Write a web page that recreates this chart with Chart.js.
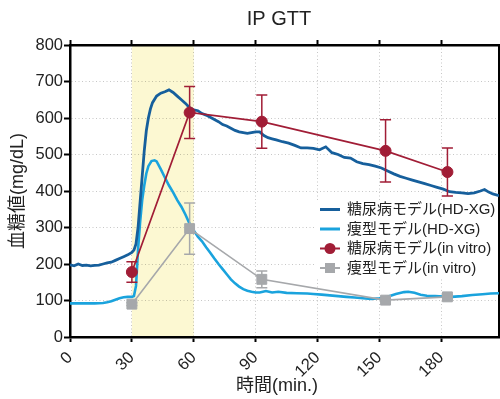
<!DOCTYPE html>
<html><head><meta charset="utf-8">
<script src="https://cdn.jsdelivr.net/npm/chart.js@4/dist/chart.umd.min.js"></script>
<style>html,body{margin:0;padding:0;background:#fff}</style>
</head><body>
<canvas id="c" width="500" height="399"></canvas>
<script>
const FONT = "'Liberation Sans', 'Noto Sans CJK JP', Arial, sans-serif";

const chartTitle = 'IP GTT';
const xAxisTitle = '時間(min.)';
const yAxisTitle = '血糖値(mg/dL)';
const seriesNames = ['糖尿病モデル(HD-XG)', '痩型モデル(HD-XG)', '糖尿病モデル(in vitro)', '痩型モデル(in vitro)'];
const xTickValues = [0, 30, 60, 90, 120, 150, 180];
const yTickValues = [0, 100, 200, 300, 400, 500, 600, 700, 800];
const xMax = 208;
const bandRange = [30, 60];

const hdTimeDiabetic = [0,2,4,6,8,10,12,14,16,18,20,22,24,26,28,30,31,32,33,34,35,36,37,38,39,40,42,44,46,48,50,52,54,56,58,60,62,64,66,68,70,72,74,76,78,80,82,84,86,88,90,92,94,96,98,100,103,106,109,112,115,118,121,124,127,130,133,136,139,142,145,148,151,154,157,160,163,166,169,172,175,178,181,184,187,190,193,196,199,201,203,205,208];
const hdDiabetic = [198,195,200,196,197,195,196,197,200,203,205,210,215,220,225,232,238,255,300,370,440,510,565,600,625,642,660,668,672,677,670,660,650,640,628,622,620,612,608,602,596,590,582,578,572,566,562,560,558,560,562,562,552,546,543,540,535,531,525,518,518,517,513,521,505,500,492,490,480,475,472,468,463,455,447,440,435,430,425,420,415,410,405,398,396,395,393,395,400,404,397,392,387];

const hdTimeLean = [0,4,8,12,16,18,20,22,24,26,28,30,31,32,33,34,35,36,37,38,39.5,41,42,44,46,48,50,52,54,56,58,60,62,64,66,68,70,72,74,76,78,80,82,84,86,88,90,92,95,98,101,105,110,115,118,122,126,130,134,138,142,146,150,154,158,162,164,167,170,173,177,181,185,190,195,200,204,208];
const hdLean = [92,92,92,92,93,95,98,102,106,109,110,110,112,140,240,315,375,415,448,468,482,484,481,460,437,415,396,375,357,335,310,292,275,262,246,231,215,200,186,172,158,147,138,131,127,124,122,122,126,122,124,121,120,119,118,116,114,112,110,108,106,104,106,110,118,123,124,121,116,113,112,111,110,112,115,117,119,120];

const vitroTime = [30, 58, 93, 153, 183];
const vitroDiabetic = [178, 615, 590, 510, 452];
const vitroDiabeticErr = [28, 71, 73, 85, 66];
const vitroLean = [90, 297, 158, 101, 110];
const vitroLeanErr = [4, 70, 23, 4, 5];

const C_DB = '#165f9c', C_LB = '#1aa3dd', C_RED = '#a11d36', C_GRAY = '#a6a8ab';
const TEXT = '#222';

const pts = (xs, ys) => xs.map((t, i) => ({x: t, y: ys[i]}));
const noPad = s => { s.paddingLeft = 0; s.paddingRight = 0; s.paddingTop = 0; s.paddingBottom = 0; };

Chart.defaults.font.family = FONT;
Chart.defaults.color = TEXT;

const bandPlugin = {
  id: 'band',
  beforeDraw(chart) {
    const {ctx, chartArea: a, scales: {x}} = chart;
    const x0 = x.getPixelForValue(bandRange[0]), x1 = x.getPixelForValue(bandRange[1]);
    ctx.save();
    ctx.fillStyle = '#fcf8d2';
    ctx.fillRect(x0, a.top, x1 - x0, a.bottom - a.top);
    ctx.restore();
  }
};

const errorBarPlugin = {
  id: 'errbars',
  afterDatasetsDraw(chart) {
    const {ctx, scales: {x, y}} = chart;
    chart.data.datasets.forEach(ds => {
      if (!ds.errors) return;
      ctx.save();
      ctx.strokeStyle = ds.borderColor;
      ctx.lineWidth = 1.5;
      ds.data.forEach((p, i) => {
        const e = ds.errors[i];
        const px = x.getPixelForValue(p.x);
        const yt = y.getPixelForValue(p.y + e), yb = y.getPixelForValue(p.y - e);
        ctx.beginPath();
        ctx.moveTo(px, yt); ctx.lineTo(px, yb);
        ctx.moveTo(px - 5.5, yt); ctx.lineTo(px + 5.5, yt);
        ctx.moveTo(px - 5.5, yb); ctx.lineTo(px + 5.5, yb);
        ctx.stroke();
      });
      ctx.restore();
    });
  }
};

const legendPlugin = {
  id: 'boxLegend',
  afterDraw(chart) {
    const {ctx, chartArea: a} = chart;
    const left = a.right - 183, top = a.top + 156;
    ctx.save();
    ctx.fillStyle = '#fff';
    ctx.fillRect(left, top, 181, 77);
    ctx.font = '15px ' + FONT;
    ctx.textBaseline = 'middle';
    ctx.textAlign = 'left';
    chart.data.datasets.forEach((ds, i) => {
      const cy = top + 8.5 + i * 19.5;
      const lx0 = left + 4, lx1 = left + 24, mx = (lx0 + lx1) / 2;
      ctx.strokeStyle = ds.borderColor;
      ctx.lineWidth = ds.errors ? 2 : 3;
      ctx.beginPath(); ctx.moveTo(lx0, cy); ctx.lineTo(lx1, cy); ctx.stroke();
      if (ds.pointStyle === 'circle' && ds.pointRadius > 0) {
        ctx.fillStyle = ds.borderColor;
        ctx.beginPath(); ctx.arc(mx, cy, 5.5, 0, Math.PI * 2); ctx.fill();
      } else if (ds.pointStyle === 'rect') {
        ctx.fillStyle = ds.borderColor;
        ctx.fillRect(mx - 5, cy - 5, 10, 10);
      }
      ctx.fillStyle = TEXT;
      ctx.fillText(ds.label, left + 31, cy + 0.5);
    });
    ctx.restore();
  }
};

new Chart(document.getElementById('c'), {
  type: 'line',
  data: {
    datasets: [
      { label: seriesNames[0], data: pts(hdTimeDiabetic, hdDiabetic), borderColor: C_DB, backgroundColor: C_DB,
        borderWidth: 2.8, pointRadius: 0, tension: 0, order: 2 },
      { label: seriesNames[1], data: pts(hdTimeLean, hdLean), borderColor: C_LB, backgroundColor: C_LB,
        borderWidth: 2.6, pointRadius: 0, tension: 0, order: 3 },
      { label: seriesNames[2], data: pts(vitroTime, vitroDiabetic), errors: vitroDiabeticErr, borderColor: C_RED,
        backgroundColor: C_RED, pointBackgroundColor: C_RED, pointBorderColor: C_RED, borderWidth: 1.7,
        pointStyle: 'circle', pointRadius: 5.5, pointBorderWidth: 1, tension: 0, order: 0 },
      { label: seriesNames[3], data: pts(vitroTime, vitroLean), errors: vitroLeanErr, borderColor: C_GRAY,
        backgroundColor: C_GRAY, pointBackgroundColor: C_GRAY, pointBorderColor: C_GRAY, borderWidth: 1.6,
        pointStyle: 'rect', pointRadius: 7, pointBorderWidth: 1, tension: 0, order: 1 }
    ]
  },
  options: {
    responsive: false,
    animation: false,
    devicePixelRatio: 1,
    layout: { autoPadding: false, padding: { left: 0, right: 1, top: 0, bottom: 0 } },
    plugins: {
      legend: { display: false },
      tooltip: { enabled: false },
      title: { display: true, text: chartTitle + '  ', fullSize: false, color: TEXT,
        font: { size: 20, weight: 'normal', family: FONT }, padding: { top: 7, bottom: 9 } }
    },
    scales: {
      x: {
        type: 'linear', position: 'bottom', min: 0, max: xMax,
        afterBuildTicks: s => { s.ticks = xTickValues.map(v => ({ value: v })); },
        afterFit: s => { s.height = 62; noPad(s); },
        ticks: { font: { size: 16.5 }, color: TEXT, minRotation: 45, maxRotation: 45, padding: 6, autoSkip: false },
        grid: { color: 'rgba(0,0,0,0.22)', lineWidth: 1, tickColor: '#000', tickWidth: 2, tickLength: 5, tickBorderDash: [] },
        border: { display: true, color: '#000', width: 2.5, dash: [1, 2.5] },
        title: { display: true, text: xAxisTitle + '   ', color: TEXT, font: { size: 18 }, padding: { top: 2, bottom: 2.2 } }
      },
      y: {
        type: 'linear', position: 'left', min: 0, max: 800,
        afterBuildTicks: s => { s.ticks = yTickValues.map(v => ({ value: v })); },
        afterFit: s => { s.width = 70; noPad(s); },
        ticks: { font: { size: 16.5 }, color: TEXT, padding: 1 },
        grid: { color: 'rgba(0,0,0,0.22)', lineWidth: 1, tickColor: '#000', tickWidth: 2, tickLength: 6, tickBorderDash: [] },
        border: { display: true, color: '#000', width: 2.5, dash: [1, 2.5] },
        title: { display: true, text: yAxisTitle, color: TEXT, font: { size: 18 }, padding: { top: 7.5, bottom: 0 } }
      },
      x2: {
        type: 'linear', position: 'top', min: 0, max: xMax,
        afterBuildTicks: s => { s.ticks = xTickValues.map(v => ({ value: v })); },
        afterFit: s => { s.height = 5; noPad(s); },
        ticks: { display: false },
        grid: { drawOnChartArea: false, tickColor: '#000', tickWidth: 2, tickLength: 5, tickBorderDash: [] },
        border: { display: true, color: '#000', width: 2.5 }
      },
      y2: {
        type: 'linear', position: 'right', min: 0, max: 800,
        afterFit: s => { s.width = 0; noPad(s); },
        ticks: { display: false },
        grid: { drawOnChartArea: false, drawTicks: false },
        border: { display: true, color: '#000', width: 2.5 }
      }
    }
  },
  plugins: [bandPlugin, errorBarPlugin, legendPlugin]
});
</script>
</body></html>
